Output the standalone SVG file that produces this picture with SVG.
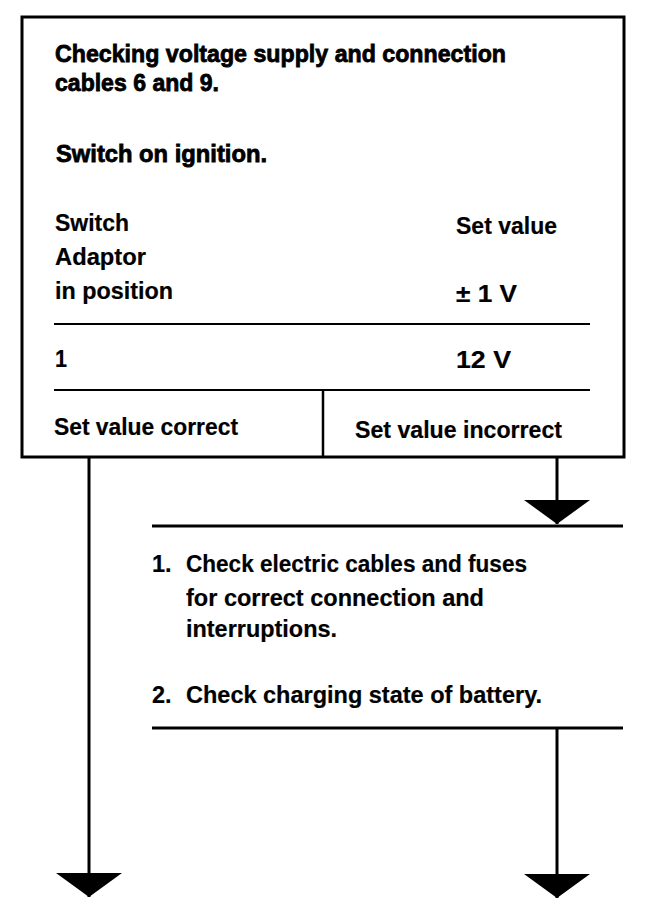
<svg xmlns="http://www.w3.org/2000/svg" width="672" height="922" viewBox="0 0 672 922">
<style>
.t{font-family:"Liberation Sans",Arial,sans-serif;font-weight:bold;fill:#000}
.ti{font-size:24px;stroke:#000;stroke-width:0.8}
.b{font-size:23.5px;stroke:#000;stroke-width:0.2}
.ln{stroke:#000;fill:none}
</style>
<defs>
<marker id="ah" markerUnits="userSpaceOnUse" markerWidth="24" markerHeight="66" viewBox="0 0 24 66" refX="24" refY="33" orient="auto">
<path d="M0,0 L24,33 L0,66 Z" fill="#000" stroke="none"/>
</marker>
</defs>
<rect width="672" height="922" fill="#fff"/>
<g id="check-voltage">
<rect class="ln" x="22" y="17" width="602" height="440" stroke-width="3"/>
<text class="t ti" x="55" y="62" textLength="451" lengthAdjust="spacingAndGlyphs">Checking voltage supply and connection</text>
<text class="t ti" x="55" y="91" textLength="164" lengthAdjust="spacingAndGlyphs">cables 6 and 9.</text>
<text class="t ti" x="56" y="162" textLength="211" lengthAdjust="spacingAndGlyphs">Switch on ignition.</text>
<text class="t b" x="55" y="231" textLength="74" lengthAdjust="spacingAndGlyphs">Switch</text>
<text class="t b" x="55" y="265" textLength="91" lengthAdjust="spacingAndGlyphs">Adaptor</text>
<text class="t b" x="55" y="299" textLength="118" lengthAdjust="spacingAndGlyphs">in position</text>
<text class="t b" x="456" y="234" textLength="101" lengthAdjust="spacingAndGlyphs">Set value</text>
<text class="t b" x="456" y="302" textLength="61" lengthAdjust="spacingAndGlyphs">± 1 V</text>
<line class="ln" x1="54" y1="324" x2="590" y2="324" stroke-width="2"/>
<text class="t b" x="55" y="367" textLength="12" lengthAdjust="spacingAndGlyphs">1</text>
<text class="t b" x="456" y="368" textLength="55" lengthAdjust="spacingAndGlyphs">12 V</text>
<line class="ln" x1="54" y1="390" x2="590" y2="390" stroke-width="2"/>
<line class="ln" x1="323" y1="390" x2="323" y2="457" stroke-width="2.5"/>
<text class="t b" x="54" y="435" textLength="184" lengthAdjust="spacingAndGlyphs">Set value correct</text>
<text class="t b" x="355" y="438" textLength="207" lengthAdjust="spacingAndGlyphs">Set value incorrect</text>
</g>
<g id="check-cables">
<line class="ln" x1="152" y1="526" x2="623" y2="526" stroke-width="3"/>
<text class="t b" x="152" y="572">1.</text>
<text class="t b" x="186" y="572" textLength="341" lengthAdjust="spacingAndGlyphs">Check electric cables and fuses</text>
<text class="t b" x="186" y="606" textLength="298" lengthAdjust="spacingAndGlyphs">for correct connection and</text>
<text class="t b" x="186" y="637" textLength="151" lengthAdjust="spacingAndGlyphs">interruptions.</text>
<text class="t b" x="152" y="703">2.</text>
<text class="t b" x="186" y="703" textLength="356" lengthAdjust="spacingAndGlyphs">Check charging state of battery.</text>
<line class="ln" x1="152" y1="728" x2="623" y2="728" stroke-width="3"/>
</g>
<g id="connectors" class="ln" stroke-width="3">
<line x1="89" y1="457" x2="89" y2="897" marker-end="url(#ah)"/>
<line x1="557" y1="457" x2="557" y2="524" marker-end="url(#ah)"/>
<line x1="557" y1="728" x2="557" y2="898" marker-end="url(#ah)"/>
</g>
</svg>
